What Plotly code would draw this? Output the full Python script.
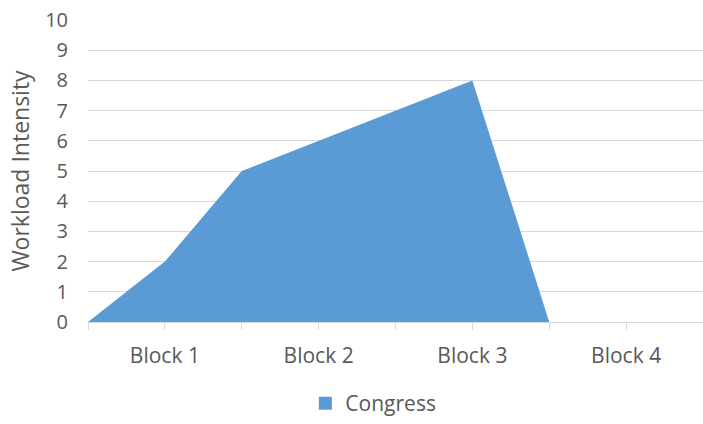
import plotly.graph_objects as go

positions = [0, 1, 2, 3, 4, 5, 6, 7, 8]
values = [0, 2, 5, 6, 7, 8, 0, None, None]
tick_labels = ["", "Block 1", "", "Block 2", "", "Block 3", "", "Block 4", ""]
y_ticks = list(range(0, 11))
series_name = "Congress"
color = "#5b9bd5"

fig = go.Figure()
fig.add_trace(go.Scatter(
    x=positions, y=values, mode="lines", name=series_name,
    fill="tozeroy", fillcolor=color,
    line=dict(color=color, width=0), connectgaps=False,
    showlegend=False,
))
# legend entry with square marker
fig.add_trace(go.Scatter(
    x=[None], y=[None], mode="markers", name=series_name,
    marker=dict(symbol="square", size=13, color=color),
    showlegend=True,
))

font_family = "Open Sans, Noto Sans, sans-serif"
fig.update_layout(
    autosize=True,
    margin=dict(l=88, r=0, t=20, b=90),
    plot_bgcolor="white", paper_bgcolor="white",
    font=dict(family=font_family, color="#595959"),
    showlegend=True,
    legend=dict(orientation="h", x=0.464, xanchor="center", y=-0.27, yanchor="middle",
                font=dict(size=21, color="#595959"), itemwidth=30),
    xaxis=dict(range=[0, 8], tickvals=positions, ticktext=tick_labels,
               ticks="outside", ticklen=7, tickcolor="#d9d9d9", tickwidth=1,
               showline=True, linecolor="#d9d9d9", linewidth=1,
               showgrid=False, zeroline=False, automargin=False,
               ticklabelstandoff=8,
               tickfont=dict(size=21, color="#595959")),
    yaxis=dict(range=[0, 10], tickvals=y_ticks, showgrid=True, gridcolor="#d9d9d9",
               gridwidth=1, zeroline=False, showline=False, ticks="",
               ticklabelstandoff=19, automargin=False,
               tickfont=dict(size=20, color="#595959"),
               title=dict(text="Workload Intensity", font=dict(size=23, color="#595959"),
                          standoff=9)),
)

fig.write_html(
    "out.html",
    default_width="100vw", default_height="100vh",
    post_script=("document.body.style.margin='0';"
                 "document.body.style.overflow='hidden';"
                 "document.documentElement.style.overflow='hidden';"),
    config={"displayModeBar": False, "responsive": True},
)
